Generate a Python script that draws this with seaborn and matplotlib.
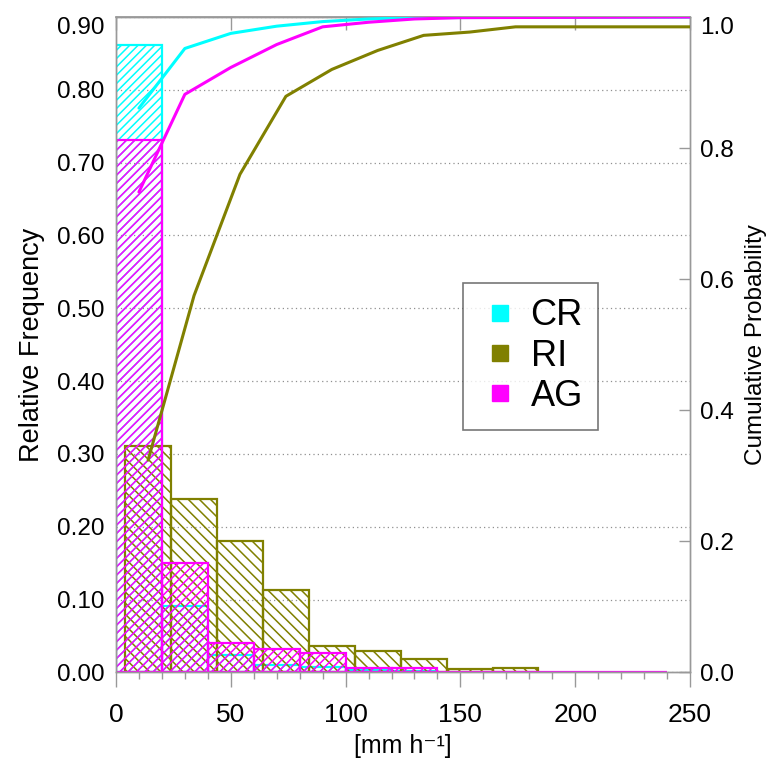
import numpy as np
import pandas as pd
import matplotlib
matplotlib.use("Agg")
import matplotlib.pyplot as plt
from matplotlib.lines import Line2D
from matplotlib.ticker import MultipleLocator, FuncFormatter
import seaborn as sns

# ---------------- data ----------------
cr_edges = [0, 20, 40, 60, 80, 100, 120, 140]
cr_freq = [0.861, 0.091, 0.024, 0.010, 0.008, 0.004, 0.002]

ri_edges = [4, 24, 44, 64, 84, 104, 124, 144, 164, 184]
ri_freq = [0.311, 0.238, 0.180, 0.113, 0.036, 0.029, 0.019, 0.005, 0.0065]

ag_edges = [0, 20, 40, 60, 80, 100, 120, 140, 160, 180, 200, 220, 240]
ag_freq = [0.731, 0.151, 0.041, 0.032, 0.027, 0.0066, 0.006, 0.0, 0.0, 0.0, 0.0, 0.0]

cr_cum_x = [10, 30, 50, 70, 90, 110, 130, 250]
cr_cum = [0.861, 0.952, 0.975, 0.986, 0.993, 0.997, 0.999, 1.0]

ri_cum_x = [14, 34, 54, 74, 94, 114, 134, 154, 174, 250]
ri_cum = [0.324, 0.575, 0.760, 0.879, 0.920, 0.949, 0.972, 0.977, 0.985, 0.985]

ag_cum_x = [10, 30, 50, 70, 90, 110, 130, 150, 250]
ag_cum = [0.733, 0.882, 0.923, 0.958, 0.985, 0.992, 0.997, 0.999, 1.0]

labels = ["CR", "RI", "AG"]
colors = {"CR": "#00FFFF", "RI": "#808000", "AG": "#FF00FF"}
hatches = {"CR": "////", "RI": "\\\\\\", "AG": "////"}

left_ticks = [0.0, 0.1, 0.2, 0.3, 0.4, 0.5, 0.6, 0.7, 0.8, 0.9]
right_ticks = [0.0, 0.2, 0.4, 0.6, 0.8, 1.0]

# ---------------- style ----------------
sns.set_theme(style="white")
plt.rcParams["font.family"] = ["Liberation Sans", "DejaVu Sans"]
plt.rcParams["hatch.linewidth"] = 1.1
plt.rcParams["text.color"] = "black"
plt.rcParams["axes.labelcolor"] = "black"

fig = plt.figure(figsize=(7.66, 7.59), dpi=100)
ax = fig.add_axes([0.1514, 0.114, 0.7494, 0.8636])
ax.set_facecolor("none")

series = {
    "CR": (cr_edges, cr_freq),
    "RI": (ri_edges, ri_freq),
    "AG": (ag_edges, ag_freq),
}
for name in labels:
    edges, freq = series[name]
    e = np.asarray(edges, dtype=float)
    centers = (e[:-1] + e[1:]) / 2
    df = pd.DataFrame({"x": centers, "w": freq})
    n_before = len(ax.patches)
    sns.histplot(data=df, x="x", weights="w", bins=list(edges), stat="count",
                 element="bars", fill=True, ax=ax, legend=False)
    for p in ax.patches[n_before:]:
        p.set_facecolor("none")
        p.set_edgecolor(colors[name])
        p.set_hatch(hatches[name])
        p.set_linewidth(1.6)
        p.set_zorder(2)

LS = 17.5
ax.set_xlim(0, 250)
ax.set_ylim(0, 0.9)
ax.set_yticks(left_ticks)
# the top label is drawn slightly lower (below) as in the reference
ax.yaxis.set_major_formatter(
    FuncFormatter(lambda v, p: "" if abs(v - left_ticks[-1]) < 1e-9 else f"{v:.2f}"))
ax.xaxis.set_major_locator(MultipleLocator(50))
ax.xaxis.set_minor_locator(MultipleLocator(10))
ax.yaxis.grid(True, linestyle=(0, (1, 2.5)), color="#909090", linewidth=0.9)
ax.set_axisbelow(True)

ax.tick_params(axis="y", which="both", left=False, right=False, length=0,
               labelsize=LS, pad=8, labelcolor="black")
ax.tick_params(axis="x", which="major", bottom=True, top=False, direction="out",
               length=11, width=1, color="#999999", labelsize=19, pad=11,
               labelcolor="black")
ax.tick_params(axis="x", which="minor", bottom=True, top=False, direction="out",
               length=5, width=1, color="#999999")
ax.set_xlabel("[mm h⁻¹]", fontsize=18, labelpad=5, color="black")
ax.set_ylabel("Relative Frequency", fontsize=19.5, labelpad=9, color="black")
ax.annotate(f"{left_ticks[-1]:.2f}", xy=(0, left_ticks[-1]),
            xycoords=("axes fraction", "data"), xytext=(-8, -5.8),
            textcoords="offset points", ha="right", va="center_baseline",
            fontsize=LS, color="black", annotation_clip=False)

for s in ax.spines.values():
    s.set_color("#999999")
    s.set_linewidth(1)

sec = ax.secondary_xaxis("top")
sec.set_xticks([0, 50, 100, 150, 200, 250])
sec.tick_params(direction="in", length=9.5, width=1, color="#999999",
                labeltop=False)
sec.spines["top"].set_color("#999999")

# cumulative probability
ax2 = ax.twinx()
cum = {"CR": (cr_cum_x, cr_cum), "RI": (ri_cum_x, ri_cum), "AG": (ag_cum_x, ag_cum)}
for name in labels:
    xs, ys = cum[name]
    sns.lineplot(x=xs, y=ys, ax=ax2, color=colors[name], linewidth=2.2,
                 legend=False, zorder=3)
ax2.set_ylim(0, 1.0)
ax2.set_yticks(right_ticks)
ax2.yaxis.set_major_formatter(
    FuncFormatter(lambda v, p: "" if abs(v - right_ticks[-1]) < 1e-9 else f"{v:.1f}"))
ax2.tick_params(axis="y", which="major", right=True, direction="in", length=7.7,
                width=1, color="#999999", labelsize=LS, pad=7,
                labelcolor="black")
ax2.set_ylabel("Cumulative Probability", fontsize=17.5, labelpad=8, color="black")
ax2.annotate(f"{right_ticks[-1]:.1f}", xy=(1, right_ticks[-1]),
             xycoords=("axes fraction", "data"), xytext=(7, -5.8),
             textcoords="offset points", ha="left", va="center_baseline",
             fontsize=LS, color="black", annotation_clip=False)
for s in ax2.spines.values():
    s.set_color("#999999")
    s.set_linewidth(1)

handles = [Line2D([], [], linestyle="none", marker="s", markersize=12,
                  markerfacecolor=colors[n], markeredgecolor=colors[n])
           for n in labels]
leg = ax2.legend(handles, labels, loc="upper left", bbox_to_anchor=(0.6045, 0.5947),
                 borderaxespad=0, fontsize=26, frameon=True, fancybox=False,
                 edgecolor="#555555", handlelength=1.2, handletextpad=0.24,
                 labelspacing=0.15, borderpad=0.43, labelcolor="black")
leg.get_frame().set_linewidth(1.2)
leg.get_frame().set_facecolor("white")
leg.set_zorder(10)

fig.savefig("out.png", dpi=100)
